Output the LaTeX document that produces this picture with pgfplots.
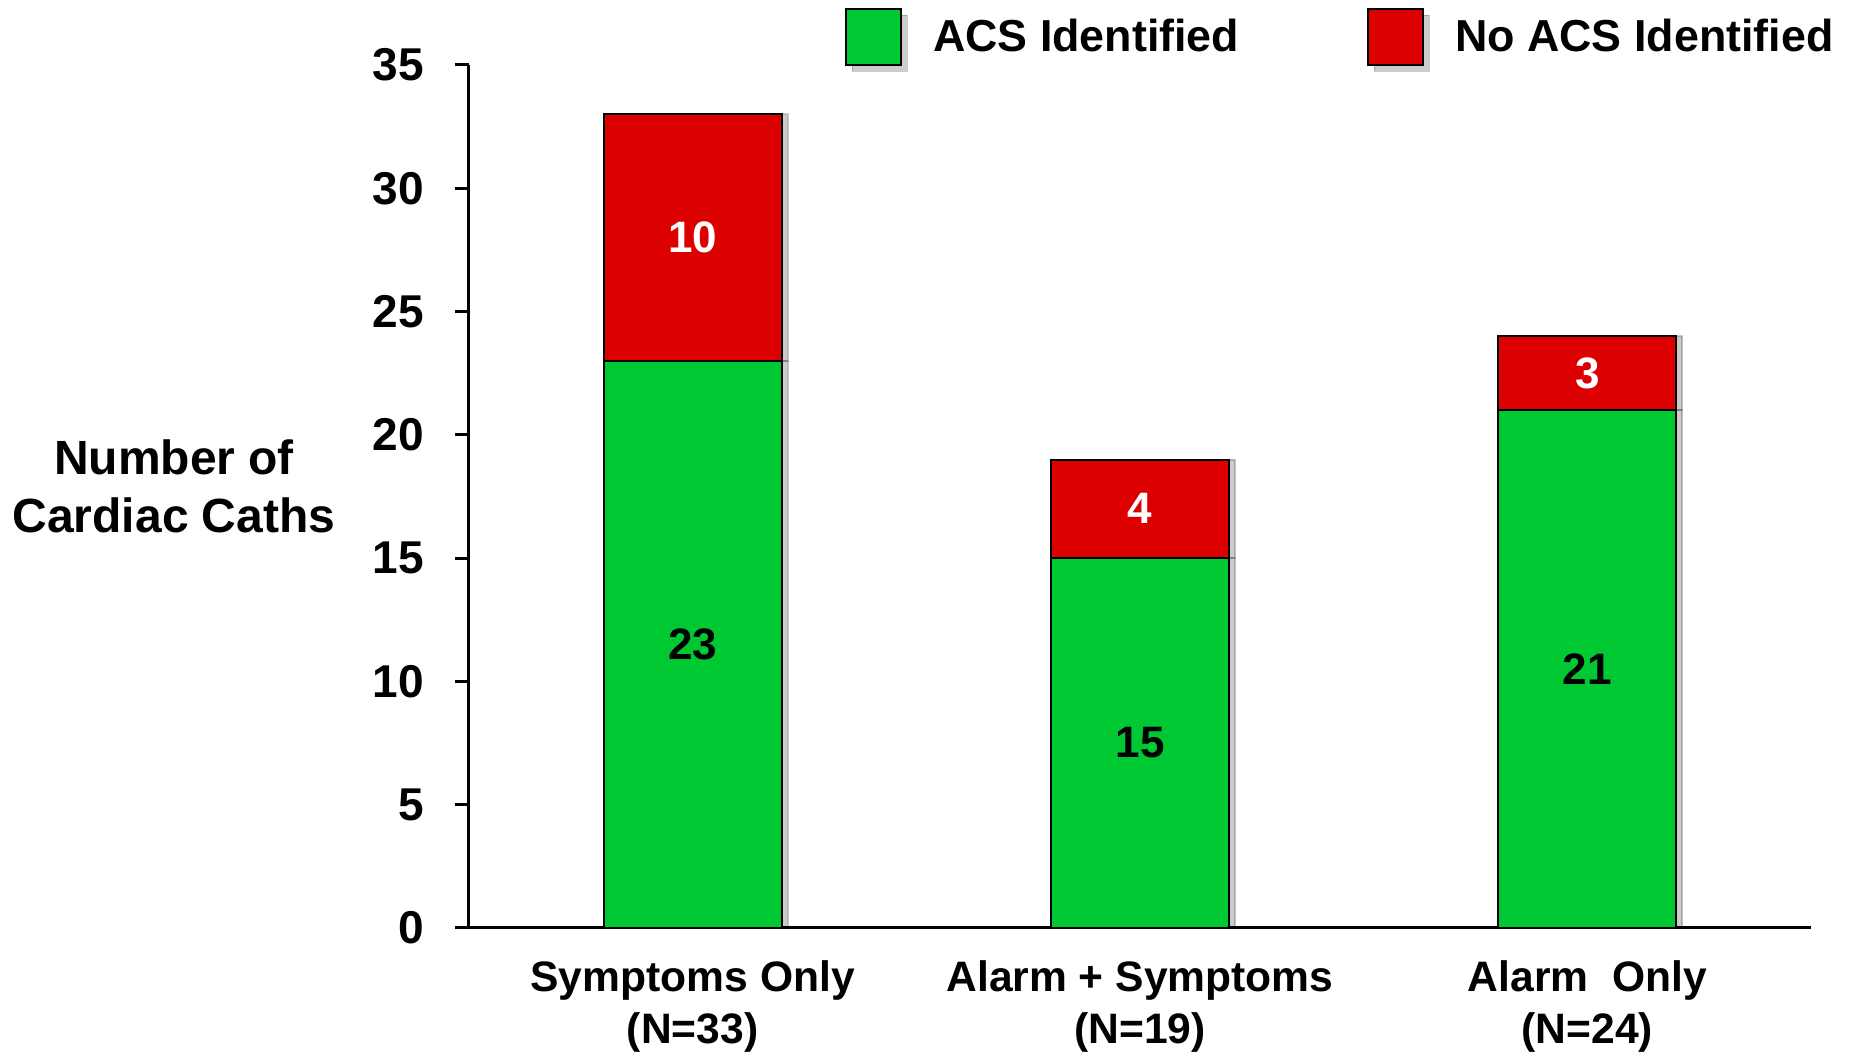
\documentclass[border=0pt]{standalone}
\usepackage{fontspec}
\setmainfont{Liberation Sans}
\usepackage{pgfplots}
\pgfplotsset{compat=1.18}
\usetikzlibrary{shadows}
\definecolor{barGreen}{RGB}{0,200,50}
\definecolor{barRed}{RGB}{221,0,0}
\newcommand{\txt}{\bfseries\fontsize{22}{26}\selectfont}
\begin{document}
\begin{tikzpicture}
\path[use as bounding box] (0,0) rectangle (929pt,527pt);
\begin{axis}[
  at={(234.5pt,63pt)}, anchor=south west,
  width=671pt, height=431.5pt, scale only axis,
  ybar stacked, bar width=89pt,
  xmin=-0.5, xmax=2.5, ymin=0, ymax=35,
  ytick={0,5,...,35},
  xtick={0,1,2},
  xticklabels={{Symptoms Only\\(N=33)},{Alarm + Symptoms\\(N=19)},{Alarm\ \ Only\\(N=24)}},
  xticklabel style={align=center, font=\bfseries\fontsize{21.3}{26}\selectfont, yshift=-6pt},
  yticklabel style={font=\bfseries\fontsize{23}{26}\selectfont, xshift=-12pt},
  /pgf/number format/assume math mode=true,
  axis lines*=left,
  axis line style={line width=1.5pt, black},
  tick align=outside, major tick length=7pt,
  ytick style={line width=1.5pt, black},
  xtick style={draw=none},
  ylabel={Number of\\Cardiac Caths},
  ylabel style={rotate=-90, at={(axis description cs:-0.2198,0.512)}, anchor=center, align=center, font=\bfseries\fontsize{24}{29}\selectfont},
  legend style={draw=none, fill=none, at={(axis description cs:0.2802,1.0324)}, anchor=west,
    legend columns=2, font=\bfseries\fontsize{22.4}{26}\selectfont, inner sep=0pt, outer sep=0pt,
    /tikz/every even column/.append style={column sep=64pt},
    nodes={inner sep=0pt}},
]
\addplot[fill=barGreen, draw=black, line width=1pt, drop shadow={shadow xshift=3pt, shadow yshift=0pt, fill=black, opacity=0.2}, forget plot] coordinates {(0,23) (1,15) (2,21)};
\addplot[fill=barRed, draw=black, line width=1pt, drop shadow={shadow xshift=3pt, shadow yshift=0pt, fill=black, opacity=0.2}, forget plot] coordinates {(0,10) (1,4) (2,3)};
\addlegendimage{legend image code/.code={\draw[fill=barGreen, draw=black, line width=1pt, drop shadow={shadow xshift=3pt, shadow yshift=-3pt, fill=black, opacity=0.2}] (0pt,-14pt) rectangle (27.5pt,14pt); \path[draw=none] (27.5pt,0pt) -- (43.5pt,0pt);}}
\addlegendentry{ACS Identified}
\addlegendimage{legend image code/.code={\draw[fill=barRed, draw=black, line width=1pt, drop shadow={shadow xshift=3pt, shadow yshift=-3pt, fill=black, opacity=0.2}] (0pt,-14pt) rectangle (27.5pt,14pt); \path[draw=none] (27.5pt,0pt) -- (43.5pt,0pt);}}
\addlegendentry{No ACS Identified}
\end{axis}
\begin{axis}[
  at={(234.5pt,63pt)}, anchor=south west,
  width=671pt, height=431.5pt, scale only axis,
  xmin=-0.5, xmax=2.5, ymin=0, ymax=35,
  hide axis,
  point meta=explicit symbolic,
  nodes near coords,
  every node near coord/.style={anchor=center, font=\txt},
]
\addplot[draw=none, mark=none, every node near coord/.append style={text=black}] coordinates {(0,11.5)[23] (1,7.5)[15] (2,10.5)[21]};
\addplot[draw=none, mark=none, every node near coord/.append style={text=white}] coordinates {(0,28)[10] (1,17)[4] (2,22.5)[3]};
\end{axis}
\end{tikzpicture}
\end{document}
